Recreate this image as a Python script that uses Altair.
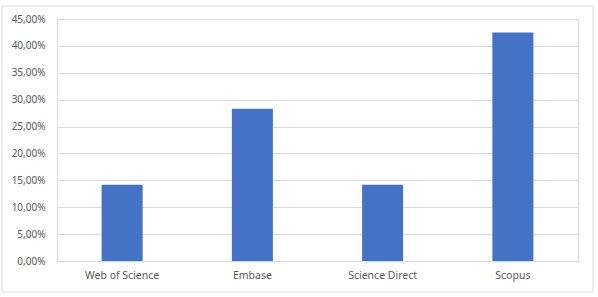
import altair as alt
import pandas as pd

categories = ["Web of Science", "Embase", "Science Direct", "Scopus"]
values = [14.2, 28.3, 14.2, 42.5]
y_ticks = [0, 5, 10, 15, 20, 25, 30, 35, 40, 45]

df = pd.DataFrame({"cat": categories, "val": values})

FONT = "Noto Sans"
GREY = "#595959"
GRID = "#d9d9d9"

bars = alt.Chart(df).mark_bar(color="#4472C4").encode(
    x=alt.X("cat:N", sort=categories, title=None,
            scale=alt.Scale(paddingInner=0.685, paddingOuter=0.3425),
            axis=alt.Axis(labelAngle=0, ticks=False, domain=True, domainColor=GRID,
                          labelColor=GREY, labelFont=FONT, labelFontSize=10.5, labelPadding=9)),
    y=alt.Y("val:Q", title=None,
            scale=alt.Scale(domain=[0, 45], nice=False),
            axis=alt.Axis(values=y_ticks, domain=False, ticks=False, gridColor=GRID,
                          labelColor=GREY, labelFont=FONT, labelFontSize=10, labelPadding=12,
                          labelExpr="replace(format(datum.value, '.2f'), '.', ',') + '%'")),
)

border = alt.Chart(pd.DataFrame({"k": [0]})).mark_rect(
    fill=None, stroke=GRID, strokeWidth=1
).encode(
    x=alt.value(-55), x2=alt.value(536), y=alt.value(-13), y2=alt.value(273)
)

chart = alt.layer(bars, border).properties(
    width=521, height=242,
    autosize=alt.AutoSizeParams(type="none"),
    padding={"left": 57, "top": 19, "right": 20, "bottom": 36},
).configure_view(stroke=None).configure(background="white")

chart.save("out.html", embed_options={"renderer": "svg", "actions": False})
